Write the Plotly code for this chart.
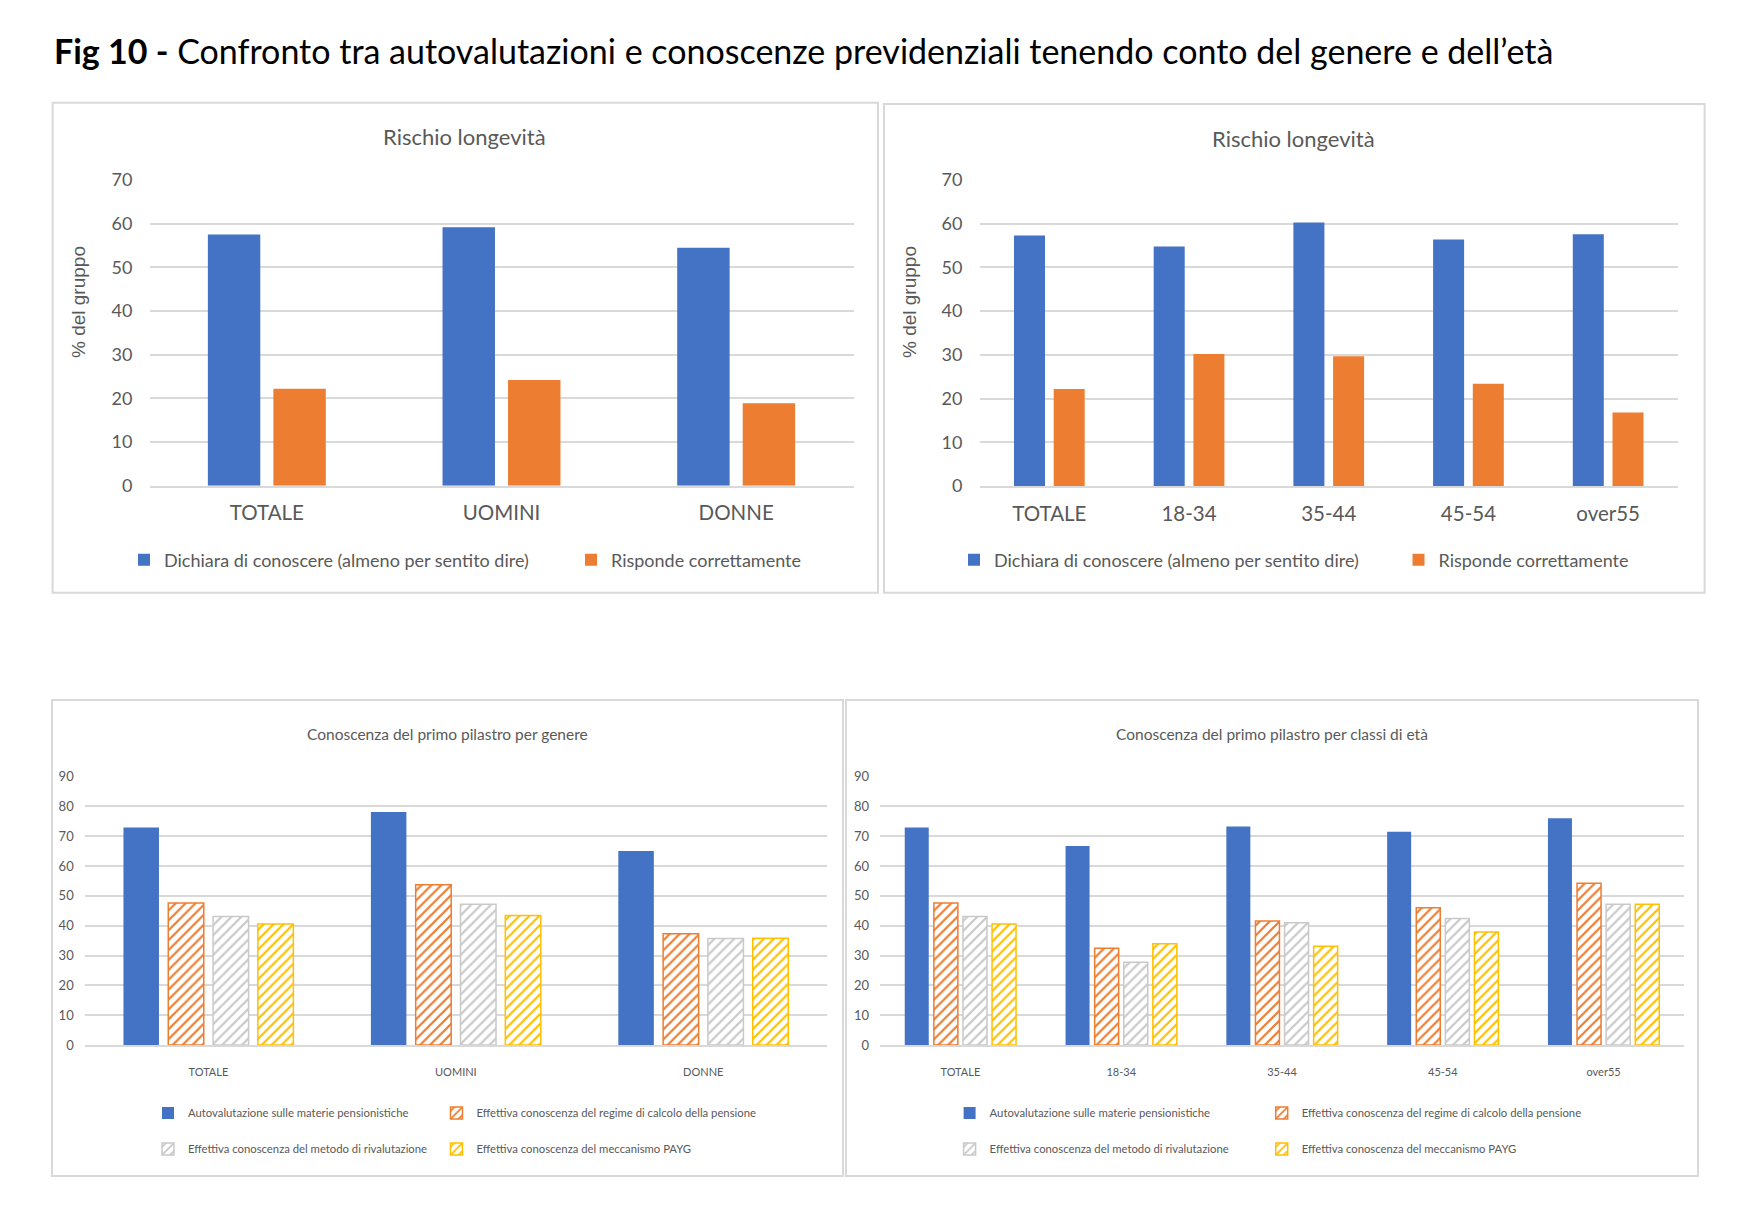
import plotly.graph_objects as go

# ---------------- data ----------------
gender_cats = ["TOTALE", "UOMINI", "DONNE"]
age_cats = ["TOTALE", "18-34", "35-44", "45-54", "over55"]

top_series = ["Dichiara di conoscere (almeno per sentito dire)", "Risponde correttamente"]
rl_gender_dichiara = [57.5, 59.2, 54.5]
rl_gender_risponde = [22.2, 24.2, 18.9]
rl_age_dichiara = [57.3, 54.8, 60.3, 56.4, 57.6]
rl_age_risponde = [22.2, 30.2, 29.7, 23.4, 16.8]

bottom_series = [
    "Autovalutazione sulle materie pensionistiche",
    "Effettiva conoscenza del regime di calcolo della pensione",
    "Effettiva conoscenza del metodo di rivalutazione",
    "Effettiva conoscenza del meccanismo PAYG",
]
pp_gender_auto = [72.9, 78.1, 65.0]
pp_gender_regime = [47.6, 53.7, 37.3]
pp_gender_rival = [43.1, 47.2, 35.7]
pp_gender_payg = [40.6, 43.4, 35.8]
pp_age_auto = [72.9, 66.7, 73.2, 71.5, 76.0]
pp_age_regime = [47.6, 32.4, 41.6, 46.0, 54.2]
pp_age_rival = [43.1, 27.7, 41.0, 42.4, 47.2]
pp_age_payg = [40.6, 33.9, 33.1, 37.9, 47.2]

# ---------------- style ----------------
W, H = 1742, 1212
BLUE, ORANGE, GRAY, YELLOW = "#4472C4", "#ED7D31", "#C9C9C9", "#FFC000"
TXT = "#595959"
GRID = "#D9D9D9"
FONT = "Lato, sans-serif"
ARIAL = "Liberation Sans, Arial, sans-serif"


def xd(a, b):
    return [a / W, b / W]


def yd(top, bottom):
    return [1 - bottom / H, 1 - top / H]


def px_x(x):
    return x / W


def px_y(y):
    return 1 - y / H


fig = go.Figure()


def solid(name, x, y, color, xa, ya, legend):
    fig.add_trace(go.Bar(name=name, x=x, y=y, xaxis=xa, yaxis=ya, legend=legend,
                         marker=dict(color=color, line=dict(width=0))))


def hatched(name, x, y, color, xa, ya, legend):
    fig.add_trace(go.Bar(name=name, x=x, y=y, xaxis=xa, yaxis=ya, legend=legend,
                         marker=dict(color="white",
                                     line=dict(color=color, width=1.5),
                                     pattern=dict(shape="/", fgcolor=color, bgcolor="white",
                                                  fillmode="replace", size=7, solidity=0.32))))


# top-left
solid(top_series[0], gender_cats, rl_gender_dichiara, BLUE, "x", "y", "legend")
solid(top_series[1], gender_cats, rl_gender_risponde, ORANGE, "x", "y", "legend2")
# top-right
solid(top_series[0], age_cats, rl_age_dichiara, BLUE, "x2", "y2", "legend3")
solid(top_series[1], age_cats, rl_age_risponde, ORANGE, "x2", "y2", "legend4")
# bottom-left
solid(bottom_series[0], gender_cats, pp_gender_auto, BLUE, "x3", "y3", "legend5")
hatched(bottom_series[1], gender_cats, pp_gender_regime, ORANGE, "x3", "y3", "legend6")
hatched(bottom_series[2], gender_cats, pp_gender_rival, GRAY, "x3", "y3", "legend7")
hatched(bottom_series[3], gender_cats, pp_gender_payg, YELLOW, "x3", "y3", "legend8")
# bottom-right
solid(bottom_series[0], age_cats, pp_age_auto, BLUE, "x4", "y4", "legend9")
hatched(bottom_series[1], age_cats, pp_age_regime, ORANGE, "x4", "y4", "legend10")
hatched(bottom_series[2], age_cats, pp_age_rival, GRAY, "x4", "y4", "legend11")
hatched(bottom_series[3], age_cats, pp_age_payg, YELLOW, "x4", "y4", "legend12")


def xaxis(domain, anchor, size, standoff):
    return dict(domain=domain, anchor=anchor, type="category", showgrid=False,
                showline=True, linecolor=GRID, linewidth=2, ticks="",
                tickfont=dict(family=FONT, size=size, color=TXT),
                ticklabelstandoff=standoff, fixedrange=True)


def yaxis(domain, anchor, rmax, size, standoff):
    return dict(domain=domain, anchor=anchor, range=[0, rmax], dtick=10, showgrid=True,
                gridcolor=GRID, gridwidth=2, zeroline=False, showline=False, ticks="",
                tickfont=dict(family=FONT, size=size, color=TXT),
                ticklabelstandoff=standoff, fixedrange=True)


def legend(x, y, size):
    return dict(orientation="h", x=px_x(x), y=px_y(y), xanchor="left", yanchor="middle",
                font=dict(family=FONT, size=size, color=TXT), bgcolor="rgba(0,0,0,0)",
                itemwidth=30)


layout = dict(
    width=W, height=H, margin=dict(l=0, r=0, t=0, b=0, pad=0, autoexpand=False),
    paper_bgcolor="white", plot_bgcolor="white",
    barmode="group", showlegend=True,
    xaxis=xaxis(xd(149.5, 853.5), "y", 20.5, 8),
    yaxis=yaxis(yd(180, 485.7), "x", 70, 18, 16),
    xaxis2=xaxis(xd(979.5, 1678), "y2", 20.5, 8),
    yaxis2=yaxis(yd(180, 486), "x2", 70, 18, 16),
    xaxis3=xaxis(xd(84.7, 827), "y3", 11, 16),
    yaxis3=yaxis(yd(776.5, 1045), "x3", 90, 13, 10),
    xaxis4=xaxis(xd(880, 1684), "y4", 11, 16),
    yaxis4=yaxis(yd(776.5, 1045), "x4", 90, 13, 10),
    legend=legend(124, 560, 18),
    legend2=legend(571, 560, 18),
    legend3=legend(954, 560, 18),
    legend4=legend(1398.5, 560, 18),
    legend5=legend(148, 1113, 11.3),
    legend6=legend(436.5, 1113, 11.3),
    legend7=legend(148, 1149, 11.3),
    legend8=legend(436.5, 1149, 11.3),
    legend9=legend(949.6, 1113, 11.3),
    legend10=legend(1261.7, 1113, 11.3),
    legend11=legend(949.6, 1149, 11.3),
    legend12=legend(1261.7, 1149, 11.3),
)
fig.update_layout(**layout)


# bar geometry per subplot (band = 1 category unit)
def set_geom(trace_idx_list, bar_w, slot_w):
    n = len(trace_idx_list)
    group = slot_w * (n - 1) + bar_w
    for k, ti in enumerate(trace_idx_list):
        fig.data[ti].width = bar_w
        fig.data[ti].offset = -group / 2 + k * slot_w


set_geom([0, 1], 52.5 / 235.0, 65.6 / 235.0)
set_geom([2, 3], 31.0 / 139.7, 39.7 / 139.7)
set_geom([4, 5, 6, 7], 35.5 / 247.4, 44.8 / 247.4)
set_geom([8, 9, 10, 11], 24.0 / 160.8, 29.1 / 160.8)

# panel boxes
for (x0, y0, x1, y1) in [(52.6, 102.7, 878, 592.7), (884, 104, 1704.6, 592.7),
                         (52, 700, 843, 1176), (846, 700, 1698, 1176)]:
    fig.add_shape(type="rect", xref="paper", yref="paper",
                  x0=px_x(x0), x1=px_x(x1), y0=px_y(y1), y1=px_y(y0),
                  line=dict(color=GRID, width=2), fillcolor="rgba(0,0,0,0)", layer="below")

annots = [
    dict(text="<b>Fig 10 -</b> Confronto tra autovalutazioni e conoscenze previdenziali tenendo conto del genere e dell’età",
         x=px_x(52), y=px_y(50), xanchor="left", yanchor="middle",
         font=dict(family="Lato, sans-serif", size=34, color="black")),
    dict(text="Rischio longevità", x=px_x(465), y=px_y(137), xanchor="center", yanchor="middle",
         font=dict(family=FONT, size=22, color=TXT)),
    dict(text="Rischio longevità", x=px_x(1293), y=px_y(138), xanchor="center", yanchor="middle",
         font=dict(family=FONT, size=22, color=TXT)),
    dict(text="% del gruppo", x=px_x(79), y=px_y(302), xanchor="center", yanchor="middle",
         textangle=-90, font=dict(family=ARIAL, size=19, color=TXT)),
    dict(text="% del gruppo", x=px_x(910), y=px_y(302), xanchor="center", yanchor="middle",
         textangle=-90, font=dict(family=ARIAL, size=19, color=TXT)),
    dict(text="Conoscenza del primo pilastro per genere", x=px_x(447), y=px_y(734),
         xanchor="center", yanchor="middle", font=dict(family=FONT, size=15.5, color=TXT)),
    dict(text="Conoscenza del primo pilastro per classi di età", x=px_x(1272), y=px_y(734),
         xanchor="center", yanchor="middle", font=dict(family=FONT, size=15.5, color=TXT)),
]
for a in annots:
    a.update(xref="paper", yref="paper", showarrow=False)
    fig.add_annotation(**a)

fig.write_html("out.html", config={"displayModeBar": False},
               post_script="document.body.style.margin='0px';document.body.style.overflow='hidden';")
